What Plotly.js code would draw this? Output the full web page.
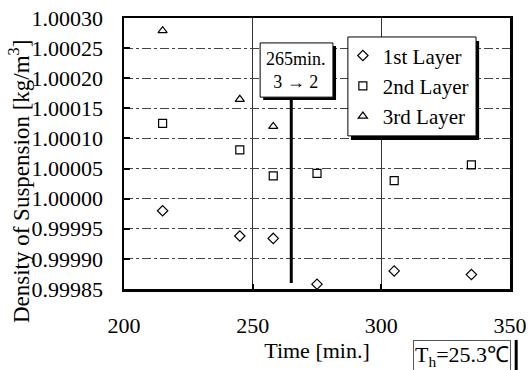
<!DOCTYPE html>
<html>
<head>
<meta charset="utf-8">
<script src="https://cdn.plot.ly/plotly-3.0.1.min.js"></script>
<style>html,body{margin:0;padding:0;background:#fff;}#chart{width:528px;height:370px;}</style>
</head>
<body>
<div id="chart"></div>
<script>
const timeL1 = [215, 245, 258, 275, 305, 335];
const dens1 = [0.99998, 0.999938, 0.999934, 0.999858, 0.99988, 0.999874];
const timeL2 = [215, 245, 258, 275, 305, 335];
const dens2 = [1.000125, 1.000081, 1.000038, 1.000042, 1.00003, 1.000056];
const timeL3 = [215, 245, 258];
const dens3 = [1.000279, 1.000165, 1.00012];
const seriesNames = ["1st Layer", "2nd Layer", "3rd Layer"];
const transitionTime = 265;

const font = "Liberation Serif, Times New Roman, serif";
const mk = (sym) => ({symbol: sym, size: 8, color: "#000", line: {color: "#000", width: 1.2}});

const traces = [
  {x: timeL1, y: dens1, name: seriesNames[0], mode: "markers", type: "scatter", marker: mk("diamond-open")},
  {x: timeL2, y: dens2, name: seriesNames[1], mode: "markers", type: "scatter", marker: mk("square-open")},
  {x: timeL3, y: dens3, name: seriesNames[2], mode: "markers", type: "scatter", marker: mk("triangle-up-open")}
];

const layout = {
  width: 528, height: 370,
  margin: {l: 124, r: 18, t: 18, b: 81},
  paper_bgcolor: "#fff", plot_bgcolor: "#fff",
  font: {family: font, size: 22, color: "#000"},
  showlegend: true,
  legend: {
    x: 0.567, y: 0.936, xanchor: "left", yanchor: "top",
    bgcolor: "rgba(0,0,0,0)", borderwidth: 0,
    font: {family: font, size: 21, color: "#000"},
    traceorder: "normal", itemwidth: 30
  },
  xaxis: {
    range: [200, 350], dtick: 50, tick0: 200,
    showline: true, linecolor: "#000", linewidth: 2.5, mirror: true,
    showgrid: true, gridcolor: "#333", gridwidth: 1,
    zeroline: false, ticks: "inside", ticklen: 5, tickcolor: "#000", tickwidth: 2,
    ticklabelstandoff: 15,
    tickfont: {family: font, size: 22},
    title: {text: "Time [min.]", font: {family: font, size: 22}, standoff: 6}
  },
  yaxis: {
    range: [0.99985, 1.0003], dtick: 0.00005, tick0: 0.99985, tickformat: ".5f",
    showline: true, linecolor: "#000", linewidth: 2.5, mirror: true,
    showgrid: true, gridcolor: "#444", gridwidth: 1, griddash: "dashdot",
    zeroline: false, ticks: "inside", ticklen: 6, tickcolor: "#000", tickwidth: 2,
    ticklabelstandoff: 14,
    tickfont: {family: font, size: 22},
    title: {text: ""}
  },
  shapes: [
    {type: "line", xref: "x", yref: "paper", x0: transitionTime, x1: transitionTime, y0: 0.022, y1: 0.708,
     line: {color: "#000", width: 3}, layer: "above"},
    {type: "rect", xref: "x", yref: "paper", x0: 254.1, x1: 282.4, y0: 0.697, y1: 0.897,
     fillcolor: "#000", line: {width: 0}, layer: "above"},
    {type: "rect", xref: "x", yref: "paper", x0: 252.9, x1: 281.2, y0: 0.708, y1: 0.908,
     fillcolor: "#fff", line: {color: "#000", width: 1}, layer: "above"},
    {type: "rect", xref: "paper", yref: "paper", x0: 0.588, x1: 0.920, y0: 0.550, y1: 0.915,
     fillcolor: "#000", line: {width: 0}, layer: "above"},
    {type: "rect", xref: "paper", yref: "paper", x0: 0.580, x1: 0.912, y0: 0.565, y1: 0.930,
     fillcolor: "#fff", line: {color: "#000", width: 1}, layer: "above"},
    {type: "line", xref: "paper", yref: "paper", x0: 1.016, x1: 1.016, y0: -0.188, y1: -0.3,
     line: {color: "#000", width: 3}}
  ],
  annotations: [
    {xref: "paper", yref: "paper", x: -0.269, y: 0.395, xanchor: "center", yanchor: "middle",
     text: "Density of Suspension [kg/m<sup>3</sup>]", textangle: -90, showarrow: false,
     font: {family: font, size: 23, color: "#000"}},
    {xref: "x", yref: "paper", x: 267.0, y: 0.808, yanchor: "middle",
     text: "265min.<br>3 \u2192 2", showarrow: false, align: "center",
     font: {family: font, size: 18, color: "#000"}},
    {xref: "paper", yref: "paper", x: 0.876, y: -0.247, xanchor: "center", yanchor: "middle",
     text: "T<sub>h</sub>=25.3\u2103", showarrow: false,
     font: {family: font, size: 22, color: "#000"},
     bgcolor: "rgba(0,0,0,0)", bordercolor: "#555", borderwidth: 1, borderpad: 1}
  ]
};

Plotly.newPlot("chart", traces, layout, {displayModeBar: false, staticPlot: true});
</script>
</body>
</html>
